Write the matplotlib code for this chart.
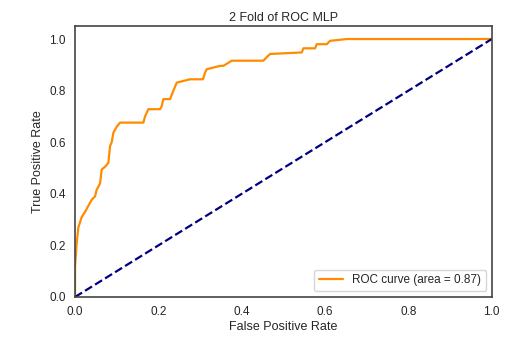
import numpy as np
import matplotlib.pyplot as plt
import seaborn as sns

plt.switch_backend('agg')

# ROC curve (staircase points)
fpr = [0.0, 0.0, 0.004, 0.008, 0.016, 0.024, 0.04, 0.048, 0.052, 0.06, 0.064,
       0.072, 0.08, 0.084, 0.088, 0.092, 0.1, 0.108, 0.164, 0.168, 0.176,
       0.204, 0.208, 0.212, 0.228, 0.236, 0.244, 0.276, 0.307, 0.312, 0.316,
       0.348, 0.356, 0.376, 0.452, 0.46, 0.468, 0.544, 0.548, 0.576, 0.58,
       0.604, 0.612, 0.652, 1.0]
tpr = [0.0, 0.117, 0.21, 0.27, 0.31, 0.33, 0.377, 0.39, 0.416, 0.44, 0.494,
       0.505, 0.52, 0.585, 0.6, 0.637, 0.66, 0.676, 0.676, 0.70, 0.728,
       0.728, 0.74, 0.767, 0.767, 0.80, 0.831, 0.844, 0.844, 0.87, 0.883,
       0.896, 0.896, 0.916, 0.916, 0.93, 0.942, 0.948, 0.964, 0.964, 0.98,
       0.98, 0.993, 1.0, 1.0]
roc_auc = 0.87

sns.set_style('white')
plt.rcParams['font.family'] = ['Liberation Sans', 'DejaVu Sans']

fig = plt.figure(figsize=(5.07, 3.42), dpi=100)
ax = fig.add_axes([0.148, 0.1316, 0.822, 0.792])
ax.plot(fpr, tpr, color='darkorange', lw=1.6,
        label='ROC curve (area = %0.2f)' % roc_auc)
ax.plot([0, 1], [0, 1], color='navy', lw=1.6, linestyle='--')
ax.set_xlim(0.0, 1.0)
ax.set_ylim(0.0, 1.05)
ax.set_xlabel('False Positive Rate', fontsize=9, labelpad=2)
ax.set_ylabel('True Positive Rate', fontsize=9)
ax.set_title('2 Fold of ROC MLP', fontsize=9, pad=4)
ax.tick_params(labelsize=8.5, pad=3)
for sp in ax.spines.values():
    sp.set_color('#444444')
    sp.set_linewidth(1.2)
ax.legend(loc='lower right', fontsize=8.5)

fig.savefig('out.png', dpi=100)
